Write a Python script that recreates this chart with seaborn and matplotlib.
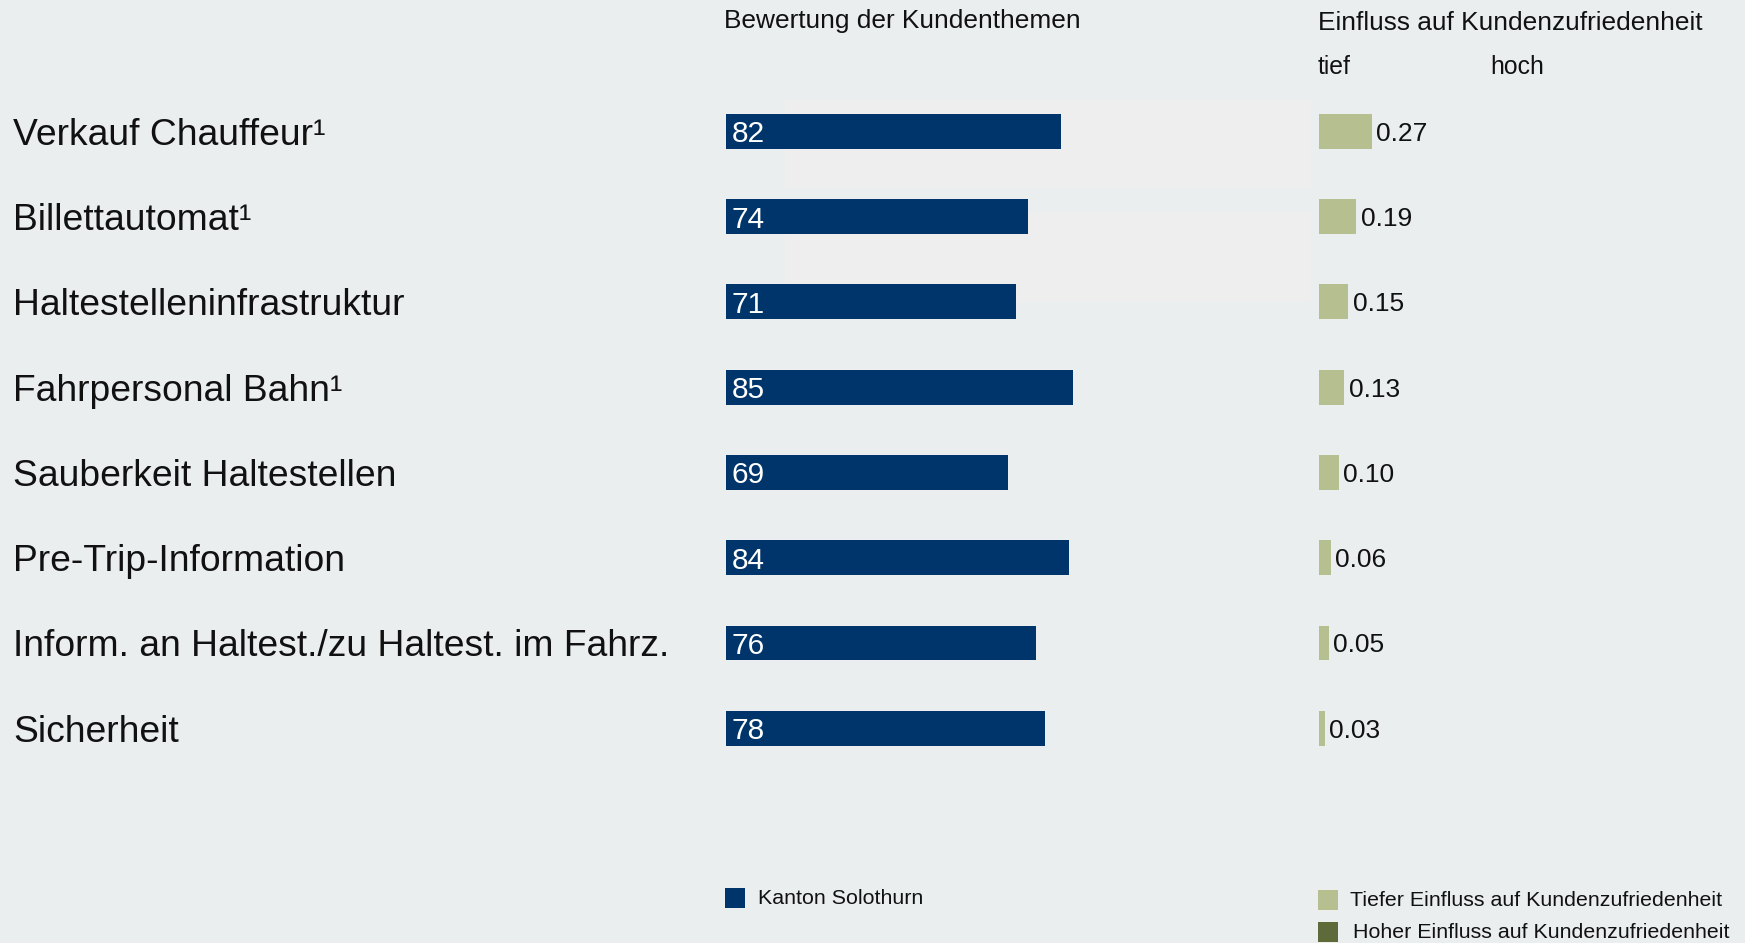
import matplotlib
matplotlib.use("Agg")
import matplotlib.pyplot as plt
import matplotlib.transforms as mtransforms
from matplotlib.patches import Rectangle
import pandas as pd
import seaborn as sns

# Kundenthemen, Bewertung (Index) und Einfluss auf die Kundenzufriedenheit
themen = [
    "Verkauf Chauffeur¹",
    "Billettautomat¹",
    "Haltestelleninfrastruktur",
    "Fahrpersonal Bahn¹",
    "Sauberkeit Haltestellen",
    "Pre-Trip-Information",
    "Inform. an Haltest./zu Haltest. im Fahrz.",
    "Sicherheit",
]
bewertung = [82, 74, 71, 85, 69, 84, 76, 78]
einfluss = [0.27, 0.19, 0.15, 0.13, 0.10, 0.06, 0.05, 0.03]
einfluss_labels = ["0.27", "0.19", "0.15", "0.13", "0.10", "0.06", "0.05", "0.03"]

kopf_bewertung = "Bewertung der Kundenthemen"
kopf_einfluss = "Einfluss auf Kundenzufriedenheit"
skala_tief, skala_hoch = "tief", "hoch"
legende_kanton = "Kanton Solothurn"
legende_tief = "Tiefer Einfluss auf Kundenzufriedenheit"
legende_hoch = "Hoher Einfluss auf Kundenzufriedenheit"

NAVY = "#00356B"
GRUEN_HELL = "#B5BF8F"
GRUEN_DUNKEL = "#5E6A3A"
HINTERGRUND = "#EAEEEF"
FELD = "#EFEEEE"

df = pd.DataFrame({"thema": themen, "bewertung": bewertung, "einfluss": einfluss})

sns.set_theme(style="white")
plt.rcParams["font.family"] = ["Liberation Sans", "DejaVu Sans"]

W, H = 1745, 943
fig = plt.figure(figsize=(W / 100, H / 100), dpi=100, facecolor=HINTERGRUND)


def fx(px):
    return px / W


def fy(py):
    return 1 - py / H


def add_axes_px(left, top, right, bottom):
    ax = fig.add_axes([fx(left), fy(bottom), (right - left) / W, (bottom - top) / H])
    ax.set_facecolor("none")
    return ax


# light panels behind the upper rows
for top, bottom in [(100, 188), (213, 302)]:
    fig.add_artist(Rectangle((fx(785), fy(bottom)), (1311 - 785) / W, (bottom - top) / H,
                             transform=fig.transFigure, facecolor=FELD,
                             edgecolor="none", zorder=-5))

ROW_TOP, ROW_BOTTOM = 88.7, 770.9

# Bewertung
ax1 = add_axes_px(726, ROW_TOP, 1134.5, ROW_BOTTOM)
sns.barplot(data=df, x="bewertung", y="thema", orient="h", color=NAVY,
            saturation=1, width=0.41, linewidth=0, edgecolor="none", ax=ax1)
ax1.set_xlim(0, 100)
ax1.set_ylim(len(themen) - 0.5, -0.5)

for i, v in enumerate(bewertung):
    ax1.annotate(f"{v}", xy=(0, i), xytext=(4.3, 0), textcoords="offset points",
                 ha="left", va="center_baseline", color="white", fontsize=21.5)

# Einfluss
ax2 = add_axes_px(1319, ROW_TOP, 1515, ROW_BOTTOM)
sns.barplot(data=df, x="einfluss", y="thema", orient="h", color=GRUEN_HELL,
            saturation=1, width=0.41, linewidth=0, edgecolor="none", ax=ax2)
ax2.set_xlim(0, 1)
ax2.set_ylim(len(themen) - 0.5, -0.5)

for i, (v, lab) in enumerate(zip(einfluss, einfluss_labels)):
    ax2.annotate(lab, xy=(v, i), xytext=(3.2, 0), textcoords="offset points",
                 ha="left", va="center_baseline", color="#111111", fontsize=19)

for ax in (ax1, ax2):
    ax.set_xlabel("")
    ax.set_ylabel("")
    ax.set_xticks([])
    ax.set_yticks([])
    sns.despine(ax=ax, left=True, bottom=True)

# category names at the left edge
trans = mtransforms.blended_transform_factory(fig.transFigure, ax1.transData)
for i, t in enumerate(themen):
    ax1.text(fx(13), i, t, transform=trans, ha="left", va="center_baseline",
             fontsize=26.8, color="#111111", clip_on=False)

# headers
fig.text(fx(724), fy(21), kopf_bewertung, ha="left", va="center", fontsize=18.9, color="#111111")
fig.text(fx(1318), fy(23), kopf_einfluss, ha="left", va="center", fontsize=18.9, color="#111111")
fig.text(fx(1318), fy(67), skala_tief, ha="left", va="center", fontsize=17.8, color="#111111")
fig.text(fx(1490), fy(67), skala_hoch, ha="left", va="center", fontsize=17.8, color="#111111")

# legend
def legend_item(x0, y0, color, label, tx, ty):
    fig.add_artist(Rectangle((fx(x0), fy(y0 + 20)), 20 / W, 20 / H,
                             transform=fig.transFigure, facecolor=color, edgecolor="none"))
    fig.text(fx(tx), fy(ty), label, ha="left", va="center", fontsize=15.4, color="#111111")


legend_item(725, 888, NAVY, legende_kanton, 758, 899)
legend_item(1318, 890, GRUEN_HELL, legende_tief, 1350, 901)
legend_item(1318, 922, GRUEN_DUNKEL, legende_hoch, 1353, 932)

fig.savefig("out.png", dpi=100, facecolor=HINTERGRUND)
